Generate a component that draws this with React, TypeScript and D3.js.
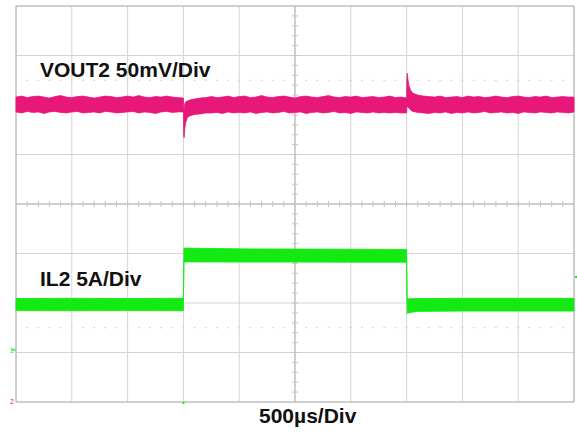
import React from 'react';
import * as d3 from 'd3';

// scope screen: 10 x 8 divisions, 500us/div -> 0..5 ms
const TIME_RANGE = [0, 5];
const DIV_RANGE = [-4, 4];

// VOUT2 ripple envelope: [time ms, upper mV, lower mV] around the nominal level
const voutEnvelope: [number, number, number][] = [
    [0, 7, -8], [0.05, 8, -9], [0.1, 6.5, -7.5], [0.15, 7.5, -8.5], [0.2, 8, -8], [0.25, 7, -9.5],
    [0.3, 6, -8], [0.35, 7.5, -7.5], [0.4, 8.5, -8.5], [0.45, 7, -9], [0.5, 6.5, -8], [0.55, 7.5, -7.5],
    [0.6, 8, -9], [0.65, 7, -8.5], [0.7, 6, -8], [0.75, 7, -9], [0.8, 8, -7.5], [0.85, 7.5, -8],
    [0.9, 6.5, -9], [0.95, 7, -8.5], [1.0, 8, -8], [1.05, 7, -7.5], [1.1, 8.5, -9], [1.15, 7, -8],
    [1.2, 6.5, -8.5], [1.25, 7.5, -9.5], [1.3, 7, -8], [1.35, 8, -7.5], [1.4, 7, -8.5], [1.45, 6.5, -8],
    // load step up -> undershoot
    [1.5, 6, -8], [1.503, -4, -31], [1.506, -6, -34], [1.512, 0, -25], [1.52, 2, -19], [1.535, 3, -14],
    [1.555, 4, -12], [1.6, 5, -10.5], [1.65, 6, -10], [1.7, 6.5, -9],
    [1.75, 7.5, -9], [1.8, 6.5, -8.5], [1.85, 7, -9.5], [1.9, 8, -8], [1.95, 6.5, -9], [2.0, 7.5, -8.5],
    [2.05, 8, -9], [2.1, 6.5, -8], [2.15, 7, -9.5], [2.2, 8.5, -8.5], [2.25, 7, -8], [2.3, 6.5, -9],
    [2.35, 7.5, -8.5], [2.4, 8, -7.5], [2.45, 7, -9], [2.5, 6, -8.5], [2.55, 7.5, -8], [2.6, 8, -9.5],
    [2.65, 7, -8.5], [2.7, 6.5, -8], [2.75, 7.5, -9], [2.8, 8.5, -8.5], [2.85, 7, -7.5], [2.9, 6.5, -9],
    [2.95, 7.5, -8.5], [3.0, 7, -9.5], [3.05, 8, -8], [3.1, 6.5, -8.5], [3.15, 7, -9], [3.2, 7.5, -8],
    [3.25, 6.5, -9], [3.3, 7, -8.5], [3.35, 8, -9], [3.4, 6.5, -8.5], [3.45, 7, -9],
    // load release -> overshoot
    [3.5, 6, -9], [3.503, 26, -4], [3.506, 31, -2], [3.512, 25, -3], [3.52, 19, -4], [3.535, 14, -6],
    [3.555, 11, -7.5], [3.6, 9, -8.5], [3.65, 8, -9],
    [3.7, 7.5, -9.5], [3.75, 7, -8.5], [3.8, 8, -9], [3.85, 6.5, -8], [3.9, 7, -9.5], [3.95, 7.5, -8.5],
    [4.0, 6.5, -9], [4.05, 8, -8], [4.1, 7, -9], [4.15, 7.5, -8.5], [4.2, 6.5, -7.5], [4.25, 7, -9],
    [4.3, 8, -8.5], [4.35, 7, -8], [4.4, 6.5, -9], [4.45, 7.5, -8.5], [4.5, 8, -9.5], [4.55, 7, -8],
    [4.6, 6.5, -8.5], [4.65, 7.5, -9], [4.7, 7, -8], [4.75, 8, -8.5], [4.8, 6.5, -9], [4.85, 7, -8],
    [4.9, 7.5, -8.5], [4.95, 7, -9], [5.0, 7, -8]
];

// IL2 inductor current envelope: [time ms, upper A, lower A]
const ilEnvelope: [number, number, number][] = [
    [0, 5.2, 3.98], [0.5, 5.22, 3.97], [1.0, 5.2, 3.98], [1.5, 5.22, 3.97],
    [1.505, 10.3, 8.9], [2.0, 10.22, 8.88], [2.5, 10.2, 8.88], [3.0, 10.18, 8.87], [3.5, 10.15, 8.87],
    [3.505, 5.15, 3.7], [3.55, 5.2, 3.82], [3.6, 5.2, 3.9], [4.0, 5.22, 3.93], [4.5, 5.22, 3.93],
    [5.0, 5.22, 3.93]
];

const VOUT_OFFSET_DIV = 2.02;   // nominal level position
const VOUT_MV_PER_DIV = 50;
const IL_OFFSET_DIV = -2.95;    // channel ground marker
const IL_A_PER_DIV = 5;

const labels = { vout: 'VOUT2 50mV/Div', il: 'IL2 5A/Div', time: '500µs/Div' };

const MAGENTA = '#e8177a';
const GREEN = '#12ea12';
const FONT = '"Liberation Sans", Arial, Helvetica, sans-serif';

export default function App() {
    const x = d3.scaleLinear().domain(TIME_RANGE).range([16, 574]);
    const y = d3.scaleLinear().domain(DIV_RANGE).range([402, 6]);
    const yV = (mv: number) => y(VOUT_OFFSET_DIV + mv / VOUT_MV_PER_DIV);
    const yI = (a: number) => y(IL_OFFSET_DIV + a / IL_A_PER_DIV);

    const voutArea = d3.area<[number, number, number]>()
        .x(d => x(d[0])).y0(d => yV(d[2])).y1(d => yV(d[1]));
    const ilArea = d3.area<[number, number, number]>()
        .x(d => x(d[0])).y0(d => yI(d[2])).y1(d => yI(d[1]));

    const xDivs = d3.range(TIME_RANGE[0], TIME_RANGE[1] + 0.001, 0.5);
    const yDivs = d3.range(DIV_RANGE[0], DIV_RANGE[1] + 0.001, 1);
    const xMinor = d3.range(-25, 26).map(i => 2.5 + i * 0.1).filter(t => t > 0.01 && t < 4.99);
    const yMinor = d3.range(-19, 20).map(i => i * 0.2);

    return (
        <svg width={577} height={436} style={{ position: 'absolute', left: 0, top: 0, background: '#fff' }}>
            {/* grid */}
            {xDivs.map(t => (
                <line key={'gx' + t} x1={x(t)} x2={x(t)} y1={y(4)} y2={y(-4)} stroke="#d4d4d4" strokeWidth={1} />
            ))}
            {yDivs.map(d => (
                <line key={'gy' + d} x1={x(0)} x2={x(5)} y1={y(d)} y2={y(d)} stroke="#d4d4d4" strokeWidth={1} />
            ))}
            {/* centre cross */}
            <line x1={x(2.5)} x2={x(2.5)} y1={y(4)} y2={y(-4)} stroke="#cfcfcf" strokeWidth={2} />
            <line x1={x(0)} x2={x(5)} y1={y(0)} y2={y(0)} stroke="#cfcfcf" strokeWidth={2} />
            {xMinor.map(t => (
                <line key={'mx' + t} x1={x(t)} x2={x(t)} y1={y(0) - 3} y2={y(0) + 3} stroke="#c4c4c4" strokeWidth={1} />
            ))}
            {yMinor.map(d => (
                <line key={'my' + d} x1={x(2.5) - 3} x2={x(2.5) + 3} y1={y(d)} y2={y(d)} stroke="#c4c4c4" strokeWidth={1} />
            ))}
            {/* dotted rows at +/-2.5 div */}
            {[2.5, -2.5].map(d => xMinor.map(t => (
                <line key={'dr' + d + t} x1={x(t) - 1} x2={x(t) + 1} y1={y(d)} y2={y(d)} stroke="#cdcdcd" strokeWidth={1} />
            )))}
            <rect x={x(0)} y={y(4)} width={x(5) - x(0)} height={y(-4) - y(4)} fill="none" stroke="#b4b4b4" strokeWidth={1} />

            {/* traces */}
            <path d={voutArea(voutEnvelope) || ''} fill={MAGENTA} stroke={MAGENTA} strokeWidth={0.8} />
            <path d={ilArea(ilEnvelope) || ''} fill={GREEN} stroke={GREEN} strokeWidth={0.8} />

            {/* channel markers */}
            <text x={10} y={yI(0) + 3} fontSize={7} fill={GREEN} fontFamily={FONT}>2</text>
            <line x1={11} x2={16} y1={yI(0)} y2={yI(0)} stroke={GREEN} strokeWidth={1} />
            <text x={10} y={y(-4) + 2} fontSize={7} fill={MAGENTA} fontFamily={FONT}>2</text>
            <line x1={575} x2={577} y1={277} y2={277} stroke={GREEN} strokeWidth={2} />
            <line x1={x(1.5)} x2={x(1.5)} y1={y(-4)} y2={y(-4) + 2} stroke={GREEN} strokeWidth={2} />

            {/* labels */}
            <text x={40} y={77} fontSize={21} fontWeight="bold" fontFamily={FONT} fill="#111">{labels.vout}</text>
            <text x={40} y={286} fontSize={21} fontWeight="bold" fontFamily={FONT} fill="#111">{labels.il}</text>
            <text x={259} y={423} fontSize={21} fontWeight="bold" fontFamily={FONT} fill="#111">{labels.time}</text>
        </svg>
    );
}
